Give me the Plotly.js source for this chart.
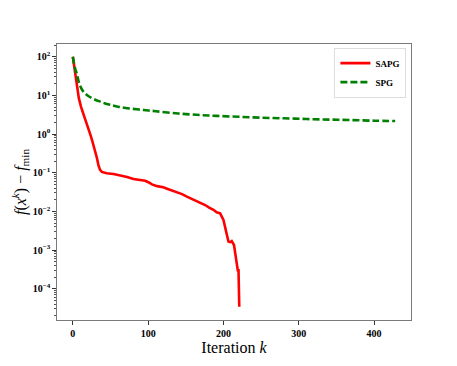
<!DOCTYPE html>
<html>
<head>
<meta charset="utf-8">
<script src="https://cdn.plot.ly/plotly-3.0.1.min.js"></script>
<style>
    html, body { margin: 0; padding: 0; background: #fff; }
    #chart { width: 457px; height: 366px; }
</style>
</head>
<body>
<div id="chart"></div>
<script>
const sapgIter = [0, 2, 4, 6, 8, 11, 14.6, 18, 21, 23.4, 26, 28, 30, 32, 34, 36, 38.5, 40.6, 45, 54, 60, 67, 72, 80.5, 88, 96, 101, 105, 112, 120, 126, 131.5, 138, 145, 151.4, 156, 162.5, 169, 175.7, 181, 186.7, 191, 195.6, 200, 203, 206.6, 209, 211, 214, 216.5, 217.8, 219, 220, 221];
const sapgGap = [100, 55, 34, 15, 8.5, 5, 3.2, 1.9, 1.3, 0.95, 0.65, 0.48, 0.35, 0.24, 0.158, 0.12, 0.105, 0.102, 0.097, 0.093, 0.088, 0.083, 0.078, 0.069, 0.065, 0.062, 0.056, 0.05, 0.045, 0.042, 0.038, 0.035, 0.031, 0.028, 0.024, 0.022, 0.0195, 0.017, 0.0146, 0.0125, 0.011, 0.0095, 0.0089, 0.006, 0.0036, 0.00166, 0.0016, 0.0017, 0.00135, 0.00068, 0.00041, 0.0003, 0.0003, 0.000034];

const spgIter = [0, 3, 5.7, 8, 12.3, 16, 21, 27, 34.5, 42, 50, 60, 75, 94, 110, 140, 170, 191, 220, 250, 280, 310, 340, 368, 400, 428];
const spgGap = [100, 50, 34, 22, 14, 11.5, 9.5, 8.2, 7.1, 6.3, 5.7, 5.1, 4.6, 4.2, 3.9, 3.4, 3.1, 2.95, 2.8, 2.65, 2.56, 2.45, 2.37, 2.3, 2.22, 2.17];

const yTickVals = [1e-4, 1e-3, 1e-2, 1e-1, 1, 10, 100];
const yTickText = ['<b>10<sup>−4</sup></b>', '<b>10<sup>−3</sup></b>', '<b>10<sup>−2</sup></b>', '<b>10<sup>−1</sup></b>', '<b>10<sup>0</sup></b>', '<b>10<sup>1</sup></b>', '<b>10<sup>2</sup></b>'];
const xTickVals = [0, 100, 200, 300, 400];
const xTickText = ['<b>0</b>', '<b>100</b>', '<b>200</b>', '<b>300</b>', '<b>400</b>'];

const serif = 'Liberation Serif, Times New Roman, serif';
const tickFont = { family: serif, size: 10, color: '#000' };
const frameColor = '#7a7a7a';

const traces = [
    {
        x: sapgIter,
        y: sapgGap,
        name: '<b>SAPG</b>',
        mode: 'lines',
        type: 'scatter',
        line: { color: '#ff0000', width: 2.6 },
    },
    {
        x: spgIter,
        y: spgGap,
        name: '<b>SPG</b>',
        mode: 'lines',
        type: 'scatter',
        line: { color: '#008000', width: 2.6, dash: '7px,3px', shape: 'spline' },
    },
];

const layout = {
    width: 457,
    height: 366,
    margin: { l: 57, r: 46, t: 44, b: 46 },
    paper_bgcolor: '#fff',
    plot_bgcolor: '#fff',
    showlegend: true,
    legend: {
        x: 0.987,
        y: 0.987,
        xanchor: 'right',
        yanchor: 'top',
        bgcolor: '#fff',
        bordercolor: '#dddddd',
        borderwidth: 1,
        font: { family: serif, size: 9, color: '#000' },
        itemwidth: 30,
        tracegroupgap: 0,
    },
    xaxis: {
        range: [-21, 449],
        tickvals: xTickVals,
        ticktext: xTickText,
        ticks: 'outside',
        ticklen: 3.5,
        tickcolor: '#333',
        tickfont: tickFont,
        showgrid: false,
        zeroline: false,
        showline: true,
        linecolor: frameColor,
        linewidth: 1.2,
        mirror: true,
        title: {
            text: 'Iteration <i>k</i>',
            font: { family: serif, size: 16, color: '#000' },
            standoff: 0,
        },
    },
    yaxis: {
        type: 'log',
        range: [-4.81, 2.33],
        tickvals: yTickVals,
        ticktext: yTickText,
        ticks: 'outside',
        ticklen: 3.5,
        tickcolor: '#333',
        tickfont: tickFont,
        minor: { ticks: 'outside', ticklen: 2, tickcolor: '#555', dtick: 'D1', showgrid: false },
        showgrid: false,
        zeroline: false,
        showline: true,
        linecolor: frameColor,
        linewidth: 1.2,
        mirror: true,
        title: {
            text: '<i>f</i>(<i>x</i><sup><i>k</i></sup>) − <i>f</i><sub>min</sub>',
            font: { family: serif, size: 16, color: '#000' },
            standoff: 2,
        },
    },
};

Plotly.newPlot('chart', traces, layout, { displayModeBar: false, staticPlot: true });
</script>
</body>
</html>
